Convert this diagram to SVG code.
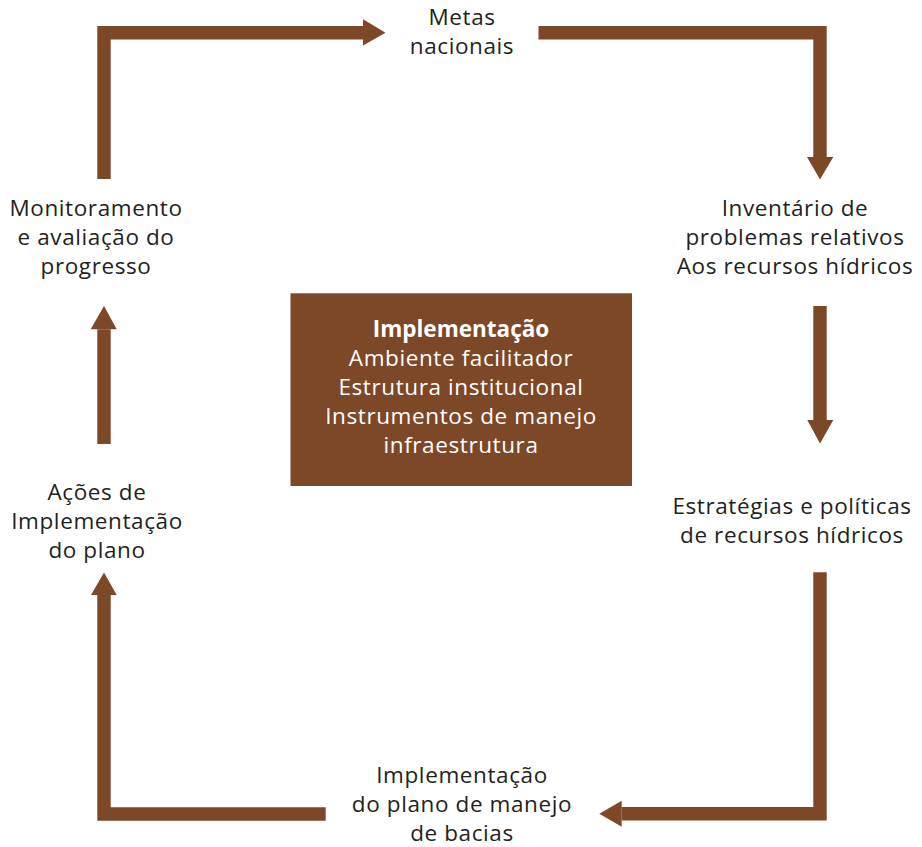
<svg xmlns="http://www.w3.org/2000/svg" width="922" height="847" viewBox="0 0 922 847">
<style>
.bar{fill:none;stroke:#7d4827;stroke-width:13.4;stroke-linejoin:miter}
.head{fill:#7d4827}
.t{font-family:"Open Sans","Noto Sans",sans-serif;font-size:22.5px;letter-spacing:0.6px;fill:#231f20;text-anchor:middle}
.w{fill:#ffffff}
.b{font-weight:bold;letter-spacing:0}
</style>
<rect width="922" height="847" fill="#ffffff"/>
<g id="connectors">
<path class="bar" d="M104,179 V32.7 H363"/>
<polygon class="head" points="363,19.3 385.5,32.7 363,45.5"/>
<path class="bar" d="M538.5,32.7 H820 V157"/>
<polygon class="head" points="807,157 820,179.5 833.3,157"/>
<path class="bar" d="M820,306 V420"/>
<polygon class="head" points="807.3,420 820,443.5 833.3,420"/>
<path class="bar" d="M820,572.3 V813.7 H621.7"/>
<polygon class="head" points="621.7,800.7 599.3,813.7 621.7,826.7"/>
<path class="bar" d="M325.7,814 H104 V595"/>
<polygon class="head" points="91,595 104,572.5 116.7,595"/>
<path class="bar" d="M104,444 V329.3"/>
<polygon class="head" points="90.7,329.3 104,306 116.7,329.3"/>
</g>
<g id="node-metas">
<text class="t" x="462" y="25">Metas</text>
<text class="t" x="462" y="54">nacionais</text>
</g>
<g id="node-inventario">
<text class="t" x="795" y="216">Inventário de</text>
<text class="t" x="795" y="245">problemas relativos</text>
<text class="t" x="795" y="274">Aos recursos hídricos</text>
</g>
<g id="node-estrategias">
<text class="t" x="792" y="514">Estratégias e políticas</text>
<text class="t" x="792" y="543">de recursos hídricos</text>
</g>
<g id="node-plano-bacias">
<text class="t" x="462" y="783">Implementação</text>
<text class="t" x="462" y="812">do plano de manejo</text>
<text class="t" x="462" y="840.5">de bacias</text>
</g>
<g id="node-acoes">
<text class="t" x="97" y="500">Ações de</text>
<text class="t" x="97" y="529">Implementação</text>
<text class="t" x="97" y="558">do plano</text>
</g>
<g id="node-monitoramento">
<text class="t" x="96" y="216">Monitoramento</text>
<text class="t" x="96" y="245">e avaliação do</text>
<text class="t" x="96" y="274">progresso</text>
</g>
<g id="node-implementacao">
<rect x="290.5" y="293.3" width="341.5" height="192.7" fill="#7d4827"/>
<text class="t w b" x="461" y="337">Implementação</text>
<text class="t w" x="461" y="366">Ambiente facilitador</text>
<text class="t w" x="461" y="395">Estrutura institucional</text>
<text class="t w" x="461" y="424">Instrumentos de manejo</text>
<text class="t w" x="461" y="453">infraestrutura</text>
</g>
</svg>
